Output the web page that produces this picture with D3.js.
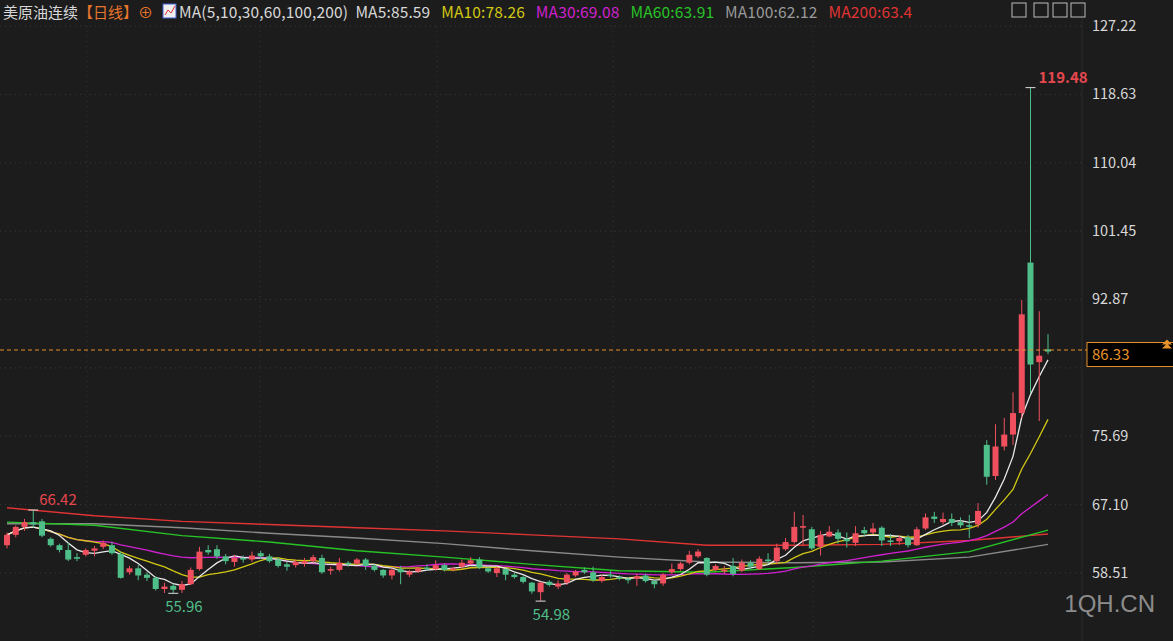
<!DOCTYPE html>
<html><head><meta charset="utf-8">
<script src="https://cdn.jsdelivr.net/npm/d3@7"></script>
<style>body{margin:0;background:#1c1c1c;}svg{display:block;font-family:"Microsoft YaHei","Noto Sans CJK SC","Noto Sans",sans-serif;}</style>
</head><body><svg id="c" width="1173" height="641"></svg>
<script>
// 日K线 [开, 收, 高, 低]
const candles = [
  [62.0,63.3,63.6,61.6],[63.3,64.3,64.5,63.0],[64.3,64.9,65.3,63.8],[64.9,64.6,66.42,64.2],[65.0,63.2,65.3,63.0],
  [62.8,62.0,63.0,61.8],[62.0,61.4,62.2,61.1],[61.4,60.2,62.3,60.0],[60.5,60.3,61.0,60.0],[60.8,61.4,61.6,60.6],
  [61.3,61.6,61.9,60.6],[61.8,62.3,62.6,61.5],[62.0,61.0,62.4,60.8],[60.9,57.9,61.2,57.8],[58.6,59.1,59.4,58.3],
  [59.1,58.2,59.5,57.6],[58.3,57.9,58.6,57.5],[57.9,56.5,58.1,56.3],[56.5,56.8,57.3,56.0],[56.9,56.4,57.2,55.96],
  [56.4,57.1,57.5,56.0],[57.1,58.9,59.2,57.0],[59.0,61.2,61.8,58.8],[61.4,61.1,62.0,60.8],[61.5,60.6,62.0,60.3],
  [60.6,60.0,60.9,59.6],[59.9,60.4,60.8,59.3],[60.4,60.2,60.7,59.8],[60.2,60.7,61.2,59.9],[61.0,60.6,61.3,60.3],
  [60.6,60.0,60.9,59.8],[60.2,59.4,60.5,59.2],[59.6,59.3,59.9,58.8],[59.5,59.9,60.2,59.2],[59.7,60.0,60.4,59.3],
  [60.0,60.5,60.8,59.8],[60.4,58.6,60.8,58.4],[58.8,59.0,59.3,58.3],[58.9,59.8,60.4,58.7],[59.8,59.6,60.0,59.3],
  [59.7,60.2,60.4,59.5],[60.2,59.4,60.4,58.9],[59.4,58.9,59.6,58.7],[58.9,58.2,59.0,57.9],[58.2,58.9,59.1,57.7],
  [59.0,58.6,59.4,57.1],[58.3,58.7,58.9,58.0],[58.7,59.1,59.3,58.5],[59.2,59.0,59.6,58.8],[59.0,59.5,60.1,58.8],
  [59.5,58.9,59.7,58.7],[58.9,59.1,59.3,58.7],[59.3,59.8,60.2,59.0],[59.7,60.1,60.5,59.5],[60.2,59.2,60.5,59.0],
  [59.1,58.7,59.3,58.5],[58.5,59.1,59.3,58.0],[59.0,58.3,59.1,57.6],[58.3,58.0,58.5,57.8],[58.0,57.4,58.2,57.2],
  [57.3,56.2,57.4,55.9],[56.1,57.3,57.4,54.98],[57.4,57.0,57.6,56.8],[56.8,57.2,57.6,56.5],[57.3,58.3,58.5,57.0],
  [58.2,58.7,58.9,58.0],[58.9,58.6,59.2,58.4],[58.6,57.6,59.3,57.4],[57.5,58.0,58.3,57.3],[58.3,58.1,58.8,57.9],
  [58.0,57.8,58.2,57.6],[57.8,57.6,58.0,57.2],[57.8,58.1,58.4,56.9],[58.2,57.5,58.4,57.3],[57.5,57.1,57.6,56.6],
  [57.2,58.3,58.5,56.9],[58.6,59.0,59.7,58.4],[59.0,59.7,59.9,58.8],[59.8,60.8,61.3,59.6],[60.6,61.2,61.5,60.4],
  [60.4,58.3,60.5,58.1],[58.9,59.4,59.6,58.7],[58.7,58.9,59.4,58.4],[59.4,58.4,60.4,58.1],[58.8,59.8,60.2,58.6],
  [59.8,59.3,60.1,59.0],[59.0,60.3,60.6,58.9],[60.2,60.0,61.0,59.7],[60.0,61.7,62.2,59.6],[61.5,62.4,62.9,61.3],
  [62.4,64.3,66.2,62.2],[64.2,64.4,65.8,62.0],[64.0,61.6,64.3,61.4],[61.8,63.3,63.8,60.7],[63.1,63.7,64.4,63.0],
  [63.6,62.8,64.0,62.2],[62.8,62.5,63.6,61.7],[62.3,63.5,64.4,61.9],[63.9,63.5,64.3,63.1],[63.6,64.1,64.8,63.4],
  [64.2,62.6,64.4,61.9],[62.6,62.4,63.4,61.9],[62.5,62.9,63.2,62.0],[63.0,62.0,63.3,61.7],[62.0,64.0,64.3,61.9],
  [64.1,65.5,66.0,63.9],[65.6,65.3,66.2,64.8],[64.9,65.3,66.1,64.6],[65.3,64.8,66.0,64.4],[64.9,64.5,65.5,64.2],
  [64.5,64.4,65.8,62.9],[64.6,66.3,67.3,64.2],[74.6,70.6,75.2,69.6],[70.7,74.4,77.2,70.2],[74.4,75.9,78.0,73.9],
  [75.9,78.6,81.2,74.6],[78.6,91.0,92.8,78.0],[97.5,84.7,119.48,81.1],[85.0,85.8,91.4,77.6],[86.6,86.33,88.5,86.0]
];
// 长周期均线 (按K线序号取样)
const maIdx = [0,10,20,30,40,50,60,70,80,90,100,110,119];
const ma60 = [64.9,64.5,63.2,62.4,61.3,60.5,59.6,58.8,58.6,59.2,60.0,61.2,63.9];
const ma100 = [64.7,64.7,64.2,63.5,62.9,62.2,61.3,60.5,59.9,59.8,59.9,60.5,62.1];
const ma200 = [66.7,65.7,65.0,64.6,64.2,63.8,63.3,62.8,62.0,62.0,62.1,62.6,63.4];
const yTicks = [58.51,67.10,75.69,84.28,92.87,101.45,110.04,118.63,127.22];
const yLabels = ["58.51","67.10","75.69","","92.87","101.45","110.04","118.63","127.22"];
const lastPrice = 86.33;

const svg = d3.select("#c");
const W = 1173, H = 641;
svg.append("rect").attr("width", W).attr("height", H).attr("fill", "#1c1c1c");

const x = d3.scaleLinear().domain([0, candles.length - 1]).range([7, 1048]);
const y = d3.scaleLinear().domain([58.51, 127.22]).range([573, 26]);
const up = "#f0505e", down = "#4fbf8a";

// 网格
svg.append("g").selectAll("line").data(yTicks).join("line")
  .attr("x1", 0).attr("x2", 1082).attr("y1", d => y(d)).attr("y2", d => y(d))
  .attr("stroke", "#3a3a3a").attr("stroke-dasharray", "1,4");
svg.append("g").selectAll("line").data([87, 260, 437, 613, 813]).join("line")
  .attr("x1", d => d).attr("x2", d => d).attr("y1", 26).attr("y2", 641)
  .attr("stroke", "#333").attr("stroke-dasharray", "1,4");
svg.append("line").attr("x1", 1082).attr("x2", 1082).attr("y1", 0).attr("y2", 641).attr("stroke", "#2a2a2a");

// 坐标轴标签
svg.append("g").selectAll("text").data(yTicks.map((d, i) => [d, yLabels[i]])).join("text")
  .attr("x", 1092).attr("y", d => y(d[0]) + 5).attr("fill", "#d8d8d8").attr("font-size", 14.5)
  .text(d => d[1]);

// 均线
const closes = candles.map(d => d[1]);
function sma(n) {
  return closes.map((c, i) => {
    const s = closes.slice(Math.max(0, i - n + 1), i + 1);
    return d3.mean(s);
  });
}
const line = d3.line().x((d, i) => x(i)).y(d => y(d));
const sline = d3.line().x(d => x(d[0])).y(d => y(d[1]));
const ma = [
  [maIdx.map((d, i) => [d, ma200[i]]), "#e03434"],
  [maIdx.map((d, i) => [d, ma100[i]]), "#8a8a8a"],
  [maIdx.map((d, i) => [d, ma60[i]]), "#27c427"]
];
ma.forEach(m => svg.append("path").attr("d", sline(m[0])).attr("fill", "none").attr("stroke", m[1]).attr("stroke-width", 1.4));
[[30, "#d021d0"], [10, "#d2c814"], [5, "#e8e8e8"]].forEach(m => {
  svg.append("path").attr("d", line(sma(m[0]))).attr("fill", "none").attr("stroke", m[1]).attr("stroke-width", 1.3);
});

// K线
const bw = 6;
const g = svg.append("g");
g.selectAll("line").data(candles).join("line")
  .attr("x1", (d, i) => x(i)).attr("x2", (d, i) => x(i))
  .attr("y1", d => y(d[2])).attr("y2", d => y(d[3]))
  .attr("stroke", d => d[1] >= d[0] ? up : down);
g.selectAll("rect").data(candles).join("rect")
  .attr("x", (d, i) => x(i) - bw / 2).attr("width", bw)
  .attr("y", d => y(Math.max(d[0], d[1])))
  .attr("height", d => Math.max(1.5, Math.abs(y(d[0]) - y(d[1]))))
  .attr("fill", d => d[1] >= d[0] ? up : down);

// 高低点标注
const hiIdx = d3.maxIndex(candles, d => d[2]);
const notes = [
  [3, "66.42", "#e5474f", 6, -1], [19, "55.96", "#4fbf8a", -8, 1],
  [61, "54.98", "#4fbf8a", -8, 1], [hiIdx, "119.48", "#e5474f", 8, -1]
];
notes.forEach(n => {
  const c = candles[n[0]];
  const v = n[4] < 0 ? c[2] : c[3];
  svg.append("line").attr("x1", x(n[0]) - 5).attr("x2", x(n[0]) + 5).attr("y1", y(v)).attr("y2", y(v)).attr("stroke", "#ddd");
  svg.append("text").attr("x", x(n[0]) + n[3]).attr("y", y(v) + (n[4] < 0 ? -5 : 19))
    .attr("fill", n[2]).attr("font-size", 15).attr("font-weight", n[0] === hiIdx ? "bold" : "normal").text(n[1]);
});

// 最新价
svg.append("line").attr("x1", 0).attr("x2", W).attr("y1", y(lastPrice) - 1.5).attr("y2", y(lastPrice) - 1.5)
  .attr("stroke", "#e8922c").attr("stroke-dasharray", "4,3");
svg.append("rect").attr("x", 1087).attr("y", y(lastPrice) - 9).attr("width", 90).attr("height", 24)
  .attr("fill", "#000").attr("stroke", "#e8922c");
svg.append("text").attr("x", 1092).attr("y", y(lastPrice) + 8).attr("fill", "#e8922c").attr("font-size", 15).text("86.33");
svg.append("path").attr("d", `M1162,${y(lastPrice) - 3} l5,-5 l5,5 Z M1162,${y(lastPrice) - 7} l5,-5 l5,5 Z`).attr("fill", "#e8922c");

// 标题
const head = svg.append("text").attr("x", 3).attr("y", 18).attr("font-size", 15);
[["美原油连续", "#d8d8d8"], ["【日线】", "#e8752c"], ["⊕ ", "#e8752c"]].forEach(t => head.append("tspan").attr("fill", t[1]).text(t[0]));
svg.append("rect").attr("x", 163).attr("y", 4).attr("width", 13).attr("height", 14).attr("fill", "#eee").attr("stroke", "#4060d0");
svg.append("path").attr("d", "M165,15 l3,-5 l3,3 l4,-7").attr("stroke", "#e03030").attr("fill", "none");
const head2 = svg.append("text").attr("x", 179).attr("y", 18).attr("font-size", 15.5).attr("textLength", 733);
[["MA(5,10,30,60,100,200)  MA5:85.59", "#d8d8d8"], ["   MA10:78.26", "#d2c814"], ["   MA30:69.08", "#d021d0"],
 ["   MA60:63.91", "#27c427"], ["   MA100:62.12", "#9a9a9a"], ["   MA200:63.4", "#e03434"]]
  .forEach(t => head2.append("tspan").attr("fill", t[1]).attr("xml:space", "preserve").text(t[0]));

// 工具图标
[1012, 1034, 1053, 1071].forEach(d => {
  svg.append("rect").attr("x", d).attr("y", 3).attr("width", 14).attr("height", 14).attr("fill", "none").attr("stroke", "#bbb");
});

// 水印
svg.append("text").attr("x", 1155).attr("y", 612).attr("text-anchor", "end").attr("fill", "#8c8c8c")
  .attr("font-size", 24).attr("font-family", "Arial, Liberation Sans").text("1QH.CN");
</script></body></html>
